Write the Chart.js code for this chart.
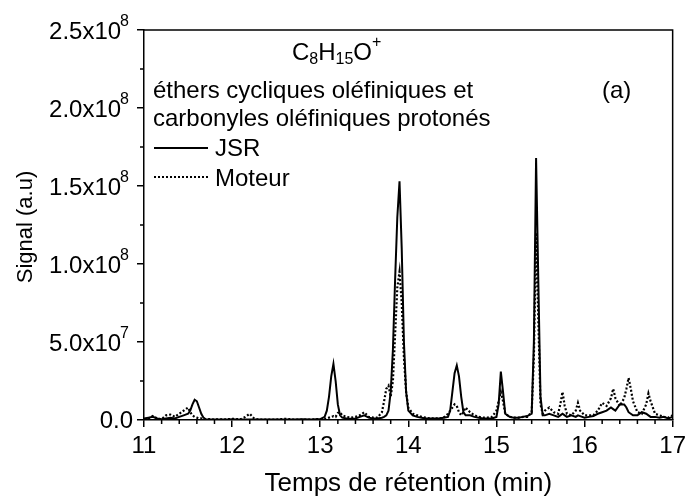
<!DOCTYPE html>
<html lang="fr">
<head>
<meta charset="UTF-8">
<title>C8H15O+ JSR / Moteur</title>
<script src="https://cdn.jsdelivr.net/npm/chart.js"></script>
<style>
  html, body { margin: 0; padding: 0; background: #fff; }
  #wrap { width: 691px; height: 498px; }
</style>
</head>
<body>
<div id="wrap"><canvas id="chart" width="691" height="498"></canvas></div>
<script>
// retention time (min)
const times = [
  11.00, 11.05, 11.10, 11.15, 11.20, 11.25, 11.30, 11.35, 11.40, 11.45,
  11.50, 11.525, 11.55, 11.575, 11.60, 11.625, 11.65, 11.675, 11.70, 11.75,
  11.80, 11.85, 11.90, 11.95, 12.00, 12.05, 12.10, 12.15, 12.20, 12.25,
  12.30, 12.40, 12.50, 12.60, 12.70, 12.80, 12.90, 12.95, 13.00, 13.05,
  13.075, 13.10, 13.125, 13.15, 13.175, 13.20, 13.225, 13.25, 13.30, 13.35,
  13.40, 13.45, 13.50, 13.55, 13.60, 13.65, 13.70, 13.725, 13.75, 13.775,
  13.80, 13.825, 13.85, 13.875, 13.90, 13.925, 13.95, 13.975, 14.00, 14.05,
  14.10, 14.15, 14.20, 14.25, 14.30, 14.35, 14.40, 14.45, 14.475, 14.50,
  14.525, 14.55, 14.575, 14.60, 14.625, 14.65, 14.70, 14.75, 14.80, 14.85,
  14.90, 14.95, 15.00, 15.025, 15.05, 15.075, 15.10, 15.15, 15.20, 15.25,
  15.30, 15.35, 15.40, 15.425, 15.45, 15.475, 15.50, 15.525, 15.55, 15.60,
  15.65, 15.70, 15.725, 15.75, 15.775, 15.80, 15.85, 15.90, 15.925, 15.95,
  16.00, 16.05, 16.10, 16.15, 16.20, 16.25, 16.30, 16.325, 16.35, 16.40,
  16.45, 16.475, 16.50, 16.525, 16.55, 16.60, 16.65, 16.70, 16.725, 16.75,
  16.80, 16.85, 16.90, 16.95, 17.00
];

// signal, in units of 1e6
const jsr = [
  1, 1.5, 2, 1, 0.5, 1, 1.5, 1, 2, 3,
  4, 6, 10, 13, 12, 8, 4, 1.5, 0.5, 0.3,
  0.3, 0.3, 0.3, 0.3, 0.5, 0.3, 0.3, 0.3, 0.3, 0.3,
  0.3, 0.3, 0.3, 0.3, 0.3, 0.5, 0.3, 0.5, 0.5, 2,
  6, 15, 28, 36, 25, 10, 3, 1.5, 1, 0.8,
  1, 2, 3, 1.5, 1, 1, 1.5, 2, 3, 6,
  18, 45, 90, 130, 153, 110, 50, 18, 6, 3,
  2, 1.5, 1, 1, 1, 1, 1.5, 2, 6, 18,
  30, 35, 28, 15, 5, 3, 3, 2, 1.5, 1,
  1, 1, 2, 10, 31, 18, 4, 2, 1.5, 1.5,
  2, 2.5, 4, 50, 168, 90, 15, 3, 3, 4,
  3, 2, 3, 4, 3, 2, 3, 2, 3, 2.5,
  1.5, 2, 2.5, 4, 5, 6, 8, 7, 6, 10,
  10, 8, 5, 4, 3, 3, 5, 4, 3, 2,
  2, 1.5, 2, 1, 2
];

const moteur = [
  0.5, 1, 2.5, 1, 0.5, 3, 3.5, 2, 4, 6,
  8, 5, 3, 2, 1.5, 1, 1, 0.5, 0.5, 0.5,
  0.3, 0.5, 0.3, 0.5, 0.8, 0.5, 0.5, 2, 4, 1,
  0.3, 0.3, 0.3, 0.8, 0.3, 0.3, 0.3, 0.5, 0.5, 0.8,
  1, 1.5, 2, 2.5, 2, 4.5, 5, 3, 2, 1.5,
  2, 3, 5, 2, 1.5, 1.5, 5, 12, 20, 22,
  15, 25, 55, 85, 95, 75, 40, 18, 8, 4,
  3, 2, 1.5, 1, 1, 1, 1.5, 4, 6, 8,
  10, 9, 5, 3, 5, 8, 5, 3, 2, 1.5,
  1.5, 2, 6, 12, 18, 12, 4, 2, 1.5, 1.5,
  2, 2, 5, 40, 120, 65, 10, 4, 6, 8,
  5, 4, 10, 18, 9, 4, 3, 6, 11, 6,
  3, 3, 3, 6, 11, 9, 14, 20, 14, 9,
  14, 20, 27, 20, 12, 5, 4, 10, 17, 12,
  4, 3, 2, 1.5, 3
];

const yTickValues = [0, 50, 100, 150, 200, 250];
const yTickMantissa = ['0.0', '5.0', '1.0', '1.5', '2.0', '2.5'];
const yTickExponent = ['', '7', '8', '8', '8', '8'];

const FONT = 'Arial, "Liberation Sans", sans-serif';

function toPoints(ys) {
  return times.map((t, i) => ({ x: t, y: ys[i] }));
}

// draws a run of [text, size, dy] pieces left to right
function drawRich(ctx, x, y, parts) {
  ctx.textAlign = 'left';
  parts.forEach(([txt, size, dy]) => {
    ctx.font = size + 'px ' + FONT;
    ctx.fillText(txt, x, y + dy);
    x += ctx.measureText(txt).width;
  });
}

const decor = {
  id: 'decor',
  afterDraw(chart) {
    const { ctx, chartArea: a, scales: { x, y } } = chart;
    ctx.save();
    ctx.strokeStyle = '#000';
    ctx.fillStyle = '#000';
    ctx.lineWidth = 1.5;

    // top and right frame
    ctx.beginPath();
    ctx.moveTo(a.left, a.top);
    ctx.lineTo(a.right, a.top);
    ctx.lineTo(a.right, a.bottom);
    ctx.stroke();

    // minor ticks
    ctx.beginPath();
    for (let k = 0; k <= 30; k++) {
      if (k % 5 === 0) continue;
      const px = x.getPixelForValue(11 + k * 0.2);
      ctx.moveTo(px, a.bottom);
      ctx.lineTo(px, a.bottom + 4);
    }
    for (let v = 25; v < 250; v += 50) {
      const py = y.getPixelForValue(v);
      ctx.moveTo(a.left, py);
      ctx.lineTo(a.left - 4, py);
    }
    ctx.stroke();

    // y tick labels with superscript exponent
    ctx.textBaseline = 'middle';
    yTickValues.forEach((v, i) => {
      const py = y.getPixelForValue(v);
      const exp = yTickExponent[i];
      if (!exp) {
        ctx.font = '24px ' + FONT;
        ctx.textAlign = 'right';
        ctx.fillText(yTickMantissa[i], a.left - 11, py + 1);
        return;
      }
      let right = a.left - 15;
      ctx.font = '16px ' + FONT;
      const ew = ctx.measureText(exp).width;
      ctx.textAlign = 'left';
      ctx.fillText(exp, right - ew, py - 8);
      right -= ew;
      ctx.font = '24px ' + FONT;
      ctx.textAlign = 'right';
      ctx.fillText(yTickMantissa[i] + 'x10', right + 1, py + 2);
    });

    // axis titles
    ctx.font = '26px ' + FONT;
    ctx.textAlign = 'center';
    ctx.fillText('Temps de rétention (min)', (a.left + a.right) / 2, 484);
    ctx.save();
    ctx.translate(26, (a.top + a.bottom) / 2 + 2);
    ctx.rotate(-Math.PI / 2);
    ctx.font = '22px ' + FONT;
    ctx.fillText('Signal (a.u)', 0, 0);
    ctx.restore();

    // annotation
    drawRich(ctx, 292, 53, [
      ['C', 24, 0], ['8', 16, 7], ['H', 24, 0], ['15', 16, 7], ['O', 24, 0], ['+', 16, -10]
    ]);
    ctx.font = '24px ' + FONT;
    ctx.textAlign = 'left';
    ctx.fillText('éthers cycliques oléfiniques et', 153, 91);
    ctx.fillText('carbonyles oléfiniques protonés', 153, 119);
    ctx.fillText('(a)', 602, 91);

    // legend
    ctx.lineWidth = 2;
    ctx.beginPath();
    ctx.moveTo(154, 148);
    ctx.lineTo(208, 148);
    ctx.stroke();
    ctx.setLineDash([2, 2]);
    ctx.beginPath();
    ctx.moveTo(154, 177);
    ctx.lineTo(208, 177);
    ctx.stroke();
    ctx.setLineDash([]);
    ctx.fillText('JSR', 215, 149);
    ctx.fillText('Moteur', 215, 179);

    ctx.restore();
  }
};

const axisGrid = { drawOnChartArea: false, tickLength: 7, color: '#000', lineWidth: 1.5 };
const axisBorder = { color: '#000', width: 1.5 };

new Chart(document.getElementById('chart'), {
  type: 'line',
  data: {
    datasets: [
      {
        label: 'JSR',
        data: toPoints(jsr),
        borderColor: '#000',
        borderWidth: 2,
        pointRadius: 0,
        tension: 0
      },
      {
        label: 'Moteur',
        data: toPoints(moteur),
        borderColor: '#000',
        borderWidth: 2.2,
        borderDash: [2, 2],
        pointRadius: 0,
        tension: 0
      }
    ]
  },
  options: {
    responsive: false,
    animation: false,
    devicePixelRatio: 1,
    layout: { padding: { top: 30, right: 14, left: 0, bottom: 0 } },
    plugins: {
      legend: { display: false },
      tooltip: { enabled: false }
    },
    scales: {
      x: {
        type: 'linear',
        min: 11,
        max: 17,
        afterFit(s) { s.height = 78; },
        ticks: { stepSize: 1, color: '#000', padding: 5, maxRotation: 0, font: { size: 24, family: FONT } },
        grid: axisGrid,
        border: axisBorder
      },
      y: {
        min: 0,
        max: 250,
        afterFit(s) { s.width = 144; },
        ticks: { stepSize: 50, display: false },
        grid: axisGrid,
        border: axisBorder
      }
    }
  },
  plugins: [decor]
});
</script>
</body>
</html>
